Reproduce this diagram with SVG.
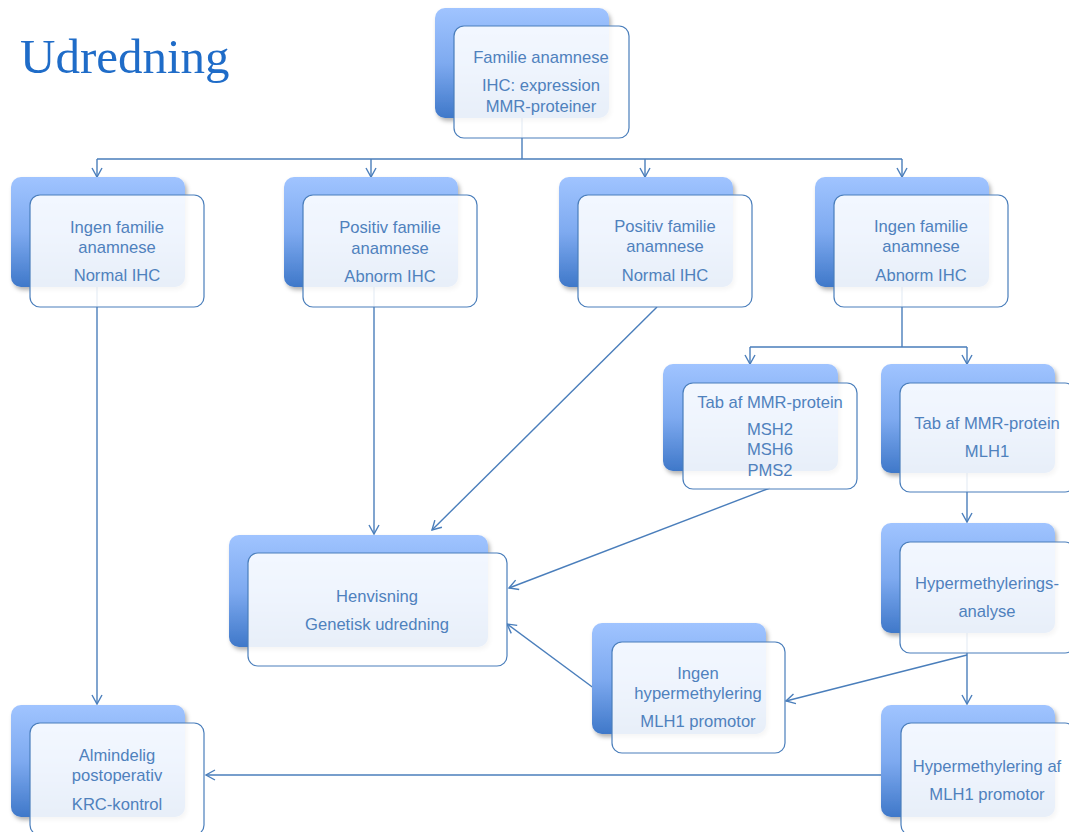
<svg xmlns="http://www.w3.org/2000/svg" width="1069" height="832" viewBox="0 0 1069 832">
<style>
.back{fill:url(#bg);filter:url(#sh)}
.front{fill:#ffffff;fill-opacity:0.88;stroke:#4a7ebb;stroke-width:1.2}
.t{font-family:"Liberation Sans",Arial,sans-serif;font-size:16.6px;fill:#4f81bd;text-anchor:middle}
.c{fill:none;stroke:#4a7ebb;stroke-width:1.4}
.a{marker-end:url(#arr)}
</style>
<defs>
<linearGradient id="bg" x1="0" y1="0" x2="0" y2="1">
<stop offset="0" stop-color="#a0c4ff"/>
<stop offset="0.5" stop-color="#7eaaf0"/>
<stop offset="1" stop-color="#3f78c9"/>
</linearGradient>
<filter id="sh" x="-10%" y="-10%" width="125%" height="130%">
<feDropShadow dx="2" dy="3" stdDeviation="2" flood-color="#000" flood-opacity="0.3"/>
</filter>
<marker id="arr" markerUnits="userSpaceOnUse" markerWidth="14" markerHeight="14" refX="10" refY="6" orient="auto">
<path d="M1,1 L10,6 L1,11" fill="none" stroke="#4a7ebb" stroke-width="1.4"/>
</marker>
</defs>
<rect width="1069" height="832" fill="#ffffff"/>
<text x="20" y="73" font-family="Liberation Serif,'Times New Roman',serif" font-size="49" fill="#1f6cc8">Udredning</text>

<g id="connectors">
<path class="c" d="M522,118 V159 M97,159 H902"/>
<path class="c a" d="M97,159 V177"/>
<path class="c a" d="M371,159 V177"/>
<path class="c a" d="M645,159 V177"/>
<path class="c a" d="M902,159 V177"/>
<path class="c a" d="M97,287 V704"/>
<path class="c a" d="M374,287 V534"/>
<path class="c a" d="M657,307 L432,530"/>
<path class="c" d="M902,287 V347 M750,347 H967"/>
<path class="c a" d="M750,347 V364"/>
<path class="c a" d="M967,347 V364"/>
<path class="c a" d="M770,488 L509,588"/>
<path class="c a" d="M967,473 V522"/>
<path class="c a" d="M967,633 V704"/>
<path class="c a" d="M967,655 L786,701"/>
<path class="c a" d="M595,689 L507,624"/>
<path class="c a" d="M881,775 H206"/>
</g>

<g id="n-top">
<rect class="back" x="435" y="8" width="174" height="110" rx="10"/>
<rect class="front" x="454" y="26" width="175" height="112" rx="10"/>
<text class="t" x="541" y="63">Familie anamnese</text>
<text class="t" x="541" y="91">IHC: expression</text>
<text class="t" x="541" y="112">MMR-proteiner</text>
</g>

<g id="n-a">
<rect class="back" x="11" y="177" width="174" height="110" rx="10"/>
<rect class="front" x="30" y="195" width="174" height="112" rx="10"/>
<text class="t" x="117" y="233">Ingen familie</text>
<text class="t" x="117" y="253">anamnese</text>
<text class="t" x="117" y="281">Normal IHC</text>
</g>

<g id="n-b">
<rect class="back" x="284" y="177" width="174" height="110" rx="10"/>
<rect class="front" x="303" y="195" width="174" height="112" rx="10"/>
<text class="t" x="390" y="233">Positiv familie</text>
<text class="t" x="390" y="254">anamnese</text>
<text class="t" x="390" y="282">Abnorm IHC</text>
</g>

<g id="n-c">
<rect class="back" x="559" y="177" width="174" height="110" rx="10"/>
<rect class="front" x="578" y="195" width="174" height="112" rx="10"/>
<text class="t" x="665" y="232">Positiv familie</text>
<text class="t" x="665" y="252">anamnese</text>
<text class="t" x="665" y="281">Normal IHC</text>
</g>

<g id="n-d">
<rect class="back" x="815" y="177" width="174" height="110" rx="10"/>
<rect class="front" x="834" y="195" width="174" height="112" rx="10"/>
<text class="t" x="921" y="232">Ingen familie</text>
<text class="t" x="921" y="252">anamnese</text>
<text class="t" x="921" y="281">Abnorm IHC</text>
</g>

<g id="n-e">
<rect class="back" x="663" y="364" width="175" height="107" rx="10"/>
<rect class="front" x="683" y="383" width="174" height="106" rx="10"/>
<text class="t" x="770" y="408">Tab af MMR-protein</text>
<text class="t" x="770" y="435">MSH2</text>
<text class="t" x="770" y="455">MSH6</text>
<text class="t" x="770" y="476">PMS2</text>
</g>

<g id="n-f">
<rect class="back" x="881" y="364" width="174" height="109" rx="10"/>
<rect class="front" x="900" y="383" width="175" height="109" rx="10"/>
<text class="t" x="987" y="429">Tab af MMR-protein</text>
<text class="t" x="987" y="457">MLH1</text>
</g>

<g id="n-g">
<rect class="back" x="881" y="523" width="174" height="110" rx="10"/>
<rect class="front" x="900" y="542" width="175" height="111" rx="10"/>
<text class="t" x="987" y="589">Hypermethylerings-</text>
<text class="t" x="987" y="617">analyse</text>
</g>

<g id="n-h">
<rect class="back" x="229" y="535" width="259" height="112" rx="10"/>
<rect class="front" x="248" y="553" width="259" height="113" rx="10"/>
<text class="t" x="377" y="602">Henvisning</text>
<text class="t" x="377" y="630">Genetisk udredning</text>
</g>

<g id="n-i">
<rect class="back" x="592" y="623" width="174" height="111" rx="10"/>
<rect class="front" x="612" y="642" width="173" height="111" rx="10"/>
<text class="t" x="698" y="679">Ingen</text>
<text class="t" x="698" y="699">hypermethylering</text>
<text class="t" x="698" y="727">MLH1 promotor</text>
</g>

<g id="n-j">
<rect class="back" x="881" y="705" width="174" height="112" rx="10"/>
<rect class="front" x="901" y="723" width="174" height="112" rx="10"/>
<text class="t" x="987" y="772">Hypermethylering af</text>
<text class="t" x="987" y="800">MLH1 promotor</text>
</g>

<g id="n-k">
<rect class="back" x="11" y="705" width="174" height="112" rx="10"/>
<rect class="front" x="30" y="723" width="174" height="112" rx="10"/>
<text class="t" x="117" y="761">Almindelig</text>
<text class="t" x="117" y="781">postoperativ</text>
<text class="t" x="117" y="810">KRC-kontrol</text>
</g>
</svg>
